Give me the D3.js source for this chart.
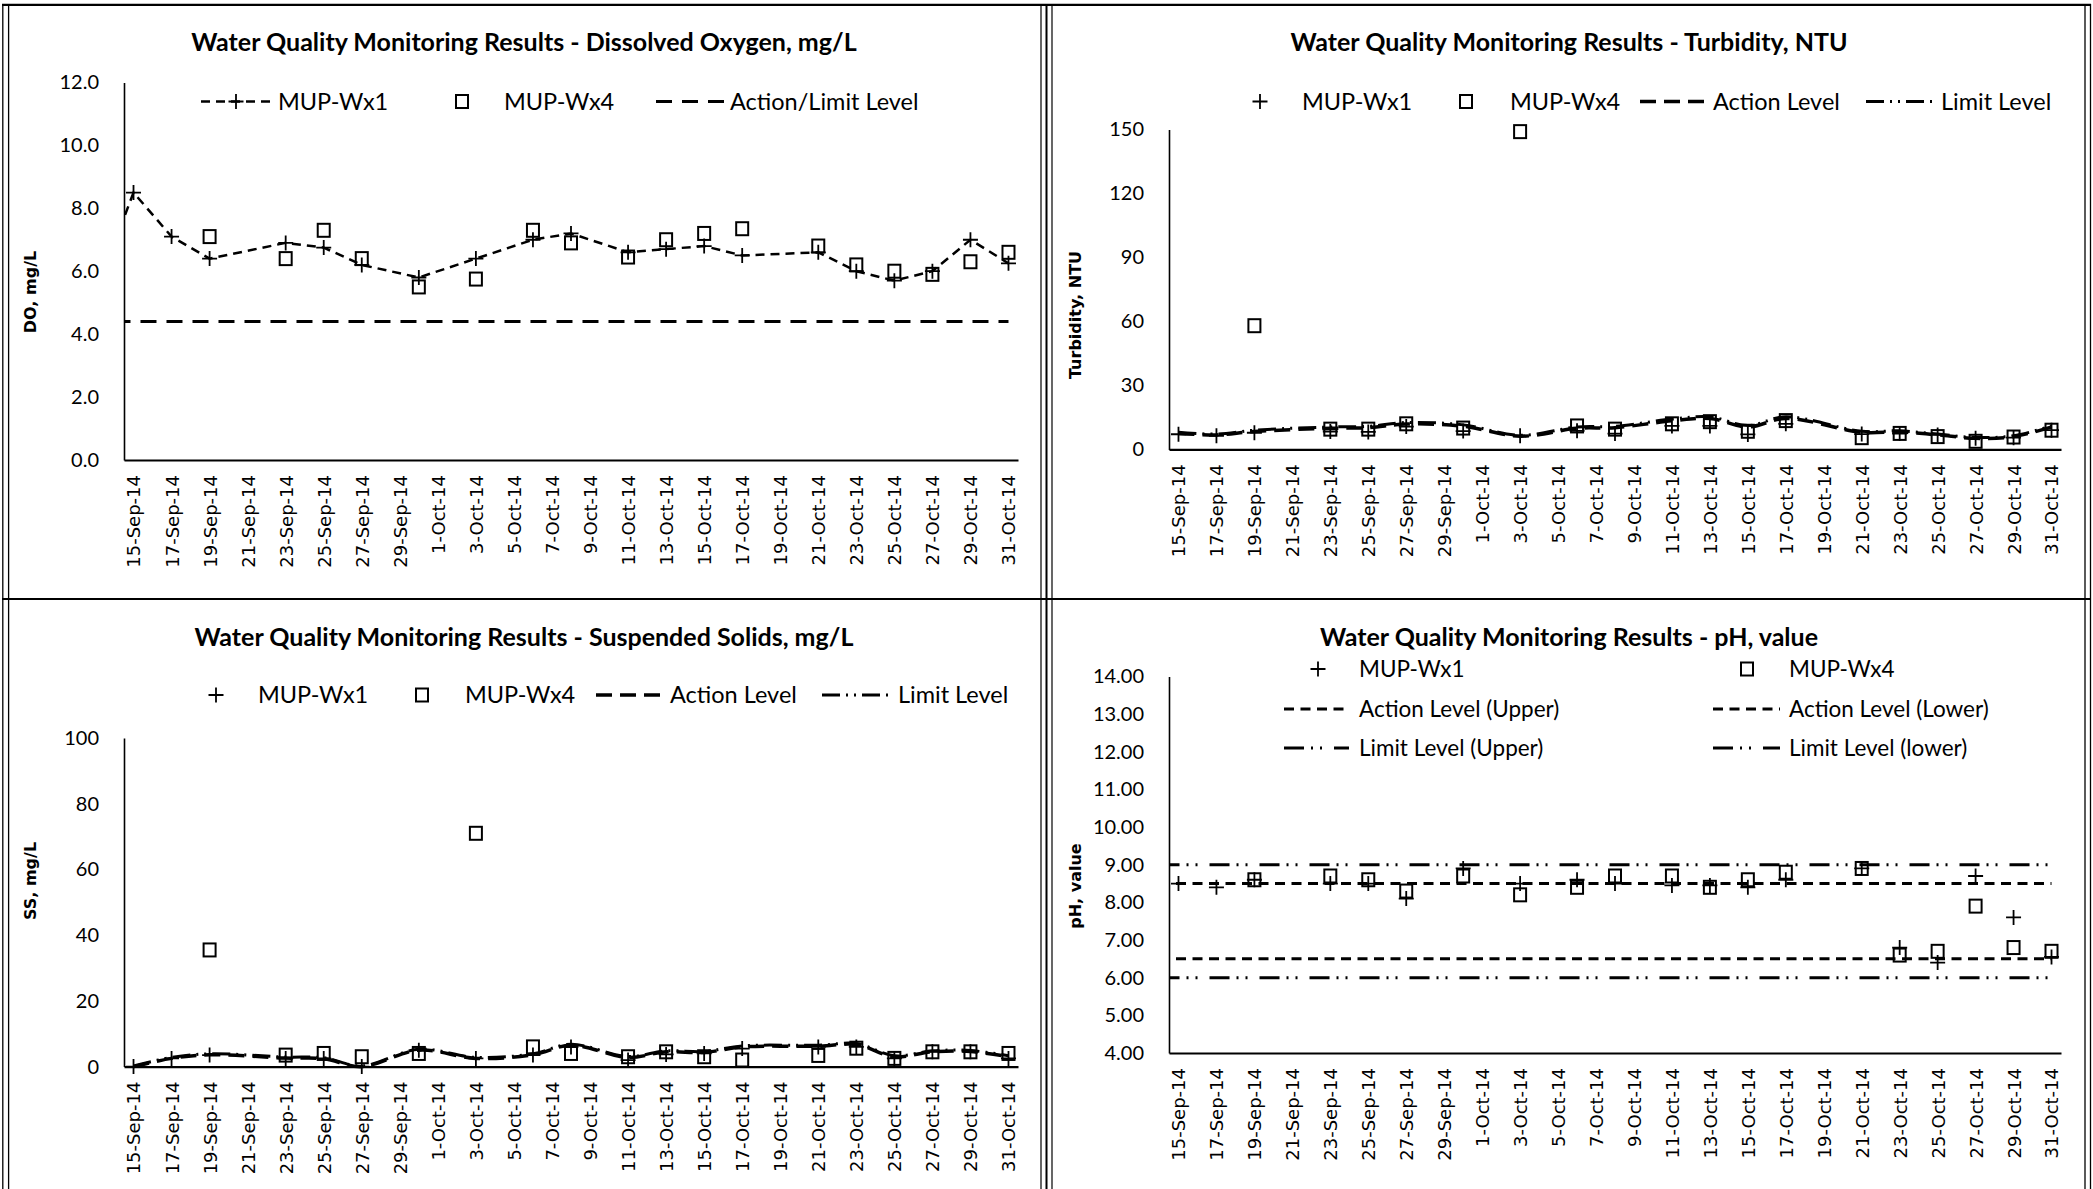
<!DOCTYPE html>
<html><head><meta charset="utf-8">
<script src="https://cdn.jsdelivr.net/npm/d3@7"></script>
<style>body{margin:0;background:#fff}svg{display:block}</style>
</head><body>
<svg id="c" width="2093" height="1189"></svg>
<script>
// ---------------- DATA ----------------
const sampleDates = ["15-Sep-14","17-Sep-14","19-Sep-14","23-Sep-14","25-Sep-14","27-Sep-14","30-Sep-14",
  "3-Oct-14","6-Oct-14","8-Oct-14","11-Oct-14","13-Oct-14","15-Oct-14","17-Oct-14","21-Oct-14",
  "23-Oct-14","25-Oct-14","27-Oct-14","29-Oct-14","31-Oct-14"];
const xTickLabels = ["15-Sep-14","17-Sep-14","19-Sep-14","21-Sep-14","23-Sep-14","25-Sep-14","27-Sep-14","29-Sep-14",
  "1-Oct-14","3-Oct-14","5-Oct-14","7-Oct-14","9-Oct-14","11-Oct-14","13-Oct-14","15-Oct-14","17-Oct-14",
  "19-Oct-14","21-Oct-14","23-Oct-14","25-Oct-14","27-Oct-14","29-Oct-14","31-Oct-14"];
const axisStartDate = "15-Sep-14";
const axisEndDate = "31-Oct-14";

// Dissolved Oxygen, mg/L
const doWx1LeadDate = "14-Sep-14";
const doWx1LeadValue = 6.9;
const doWx1 = [8.5,7.1,6.4,6.9,6.75,6.2,5.8,6.4,7.0,7.2,6.6,6.7,6.8,6.5,6.6,6.0,5.7,6.0,7.0,6.25];
const doWx4 = [null,null,7.1,6.4,7.3,6.4,5.5,5.75,7.3,6.9,6.45,7.0,7.2,7.35,6.8,6.2,6.0,5.9,6.3,6.6];
const doActionLimit = 4.4;
const doTicks = [0,2,4,6,8,10,12];

// Turbidity, NTU
const turbWx1 = [7.1,6.4,7.8,8.4,8.2,10.7,8.6,6.4,8.7,7.4,11.0,11.0,7.0,12.0,7.2,7.4,6.8,5.2,5.5,9.0];
const turbWx4 = [null,null,58,9.5,9.5,12.0,10.0,149,11.0,9.5,12.0,13.0,8.5,13.5,5.5,7.5,6.0,3.8,5.8,9.0];
const turbAction = [7.5,6.8,8.4,9.9,10.2,11.9,10.9,6.2,9.9,10.2,13.4,14.5,10.5,14.5,8.0,8.2,6.8,5.2,6.0,10.5];
const turbLimit  = [8.0,7.2,9.0,10.5,10.8,12.6,11.5,6.6,10.5,10.8,14.2,15.3,11.2,15.3,8.5,8.7,7.2,5.6,6.4,11.0];
const turbTicks = [0,30,60,90,120,150];

// Suspended Solids, mg/L
const ssWx1 = [0,2.5,3.5,2.5,2.5,0,5.0,2.5,3.5,6.0,2.0,3.7,4.0,5.5,6.0,6.0,2.5,4.5,4.5,2.5];
const ssWx4 = [null,null,35.5,3.5,4.0,3.0,4.0,71,6.0,4.0,3.0,4.5,3.0,2.0,3.4,5.6,2.5,4.5,4.5,4.0];
const ssAction = [0,2.5,3.6,2.6,2.4,0,5.0,2.5,3.6,6.5,2.8,4.5,4.3,6.0,6.2,6.7,3.0,4.5,4.6,3.0];
const ssLimit  = [0.2,2.8,3.9,2.9,2.7,0.2,5.3,2.8,3.9,6.8,3.1,4.8,4.6,6.3,6.5,7.0,3.3,4.8,4.9,3.3];
const ssTicks = [0,20,40,60,80,100];

// pH, value
const phWx1 = [8.5,8.4,8.6,8.5,8.5,8.1,8.9,8.5,8.6,8.5,8.45,8.45,8.4,8.6,8.9,6.8,6.4,8.7,7.6,6.55];
const phWx4 = [null,null,8.6,8.7,8.6,8.3,8.7,8.2,8.4,8.7,8.7,8.4,8.6,8.8,8.9,6.6,6.7,7.9,6.8,6.7];
const phActionUpper = 8.5, phActionLower = 6.5, phLimitUpper = 9.0, phLimitLower = 6.0;
const phTicks = [4,5,6,7,8,9,10,11,12,13,14];

// ---------------- DRAWING ----------------
const svg = d3.select("#c");
const parse = d3.utcParse("%d-%b-%y");
const FT = "Lato, 'Open Sans', sans-serif";
const FV = "'DejaVu Sans', Verdana, sans-serif";

const DASH = {
  series: "9,6",
  doAction: "16,10",
  action: "16,8",
  limit: "18,6,2,6,2,6",
  phAction: "10,6.5",
  phLimit: "20,7,2,7,2,12"
};

function plusPath(s){ return `M${-s},0H${s}M0,${-s}V${s}`; }

let clipId = 0;
function panel(cfg){
  const g = svg.append("g").attr("transform", `translate(${cfg.ox},${cfg.oy})`);
  const x = d3.scaleUtc()
    .domain([d3.utcHour.offset(parse(axisStartDate), -12), d3.utcHour.offset(parse(axisEndDate), 12)])
    .range([124, cfg.right]);
  const y = d3.scaleLinear().domain(cfg.yDomain).range([cfg.bottom, cfg.top]);

  g.append("text").attr("x", 524).attr("y", 51).attr("text-anchor","middle")
    .style("font-family", FT).style("font-weight","700").style("font-size","25px")
    .text(cfg.title);

  g.append("text").attr("transform", `translate(30,${cfg.yTitleY}) rotate(-90)`)
    .attr("text-anchor","middle").attr("dy","0.35em")
    .style("font-family", FV).style("font-weight","700").style("font-size","16px")
    .text(cfg.yTitle);

  const ya = g.append("g").attr("transform","translate(124,0)")
    .call(d3.axisLeft(y).tickValues(cfg.ticks).tickSize(0).tickSizeOuter(0).tickPadding(25).tickFormat(d3.format(cfg.fmt)));
  ya.select(".domain").attr("stroke","#000").attr("stroke-width",1.6);
  ya.selectAll("text").style("font-family", FT).style("font-size","20px").attr("fill","#000");

  const xa = g.append("g").attr("transform", `translate(0,${cfg.bottom})`)
    .call(d3.axisBottom(x).tickValues(xTickLabels.map(parse)).tickSize(0).tickSizeOuter(0)
      .tickFormat((d,i) => xTickLabels[i]));
  xa.select(".domain").attr("stroke","#000").attr("stroke-width",2.2);
  xa.selectAll("text").attr("y",0).attr("x",-15).attr("dy","0.36em")
    .attr("transform","rotate(-90)").style("text-anchor","end")
    .style("font-family", FV).style("font-size","18px").attr("fill","#000");

  const id = "clip" + (clipId++);
  g.append("clipPath").attr("id", id).append("rect")
    .attr("x",124).attr("y",-100).attr("width",cfg.right-124).attr("height",cfg.bottom+200);
  const plot = g.append("g").attr("clip-path", `url(#${id})`);

  return {g, x, y, plot, legSize: cfg.legSize};
}

function drawLine(p, dates, vals, dash, width, curve){
  const pts = dates.map((d,i)=>({d:parse(d), v:vals[i]})).filter(o=>o.v!=null);
  p.plot.append("path").datum(pts)
    .attr("fill","none").attr("stroke","#000").attr("stroke-width",width)
    .attr("stroke-dasharray",dash)
    .attr("d", d3.line().curve(curve || d3.curveLinear).x(o=>p.x(o.d)).y(o=>p.y(o.v)));
}
function drawPlus(p, dates, vals){
  const pts = dates.map((d,i)=>({d:parse(d), v:vals[i]})).filter(o=>o.v!=null);
  p.plot.selectAll(null).data(pts).enter().append("path")
    .attr("transform", o=>`translate(${p.x(o.d)},${p.y(o.v)})`)
    .attr("d", plusPath(7.5)).attr("stroke","#000").attr("stroke-width",1.8).attr("fill","none");
}
function drawSquare(p, dates, vals){
  const pts = dates.map((d,i)=>({d:parse(d), v:vals[i]})).filter(o=>o.v!=null);
  p.plot.selectAll(null).data(pts).enter().append("rect")
    .attr("x", o=>p.x(o.d)-6).attr("y", o=>p.y(o.v)-6.5).attr("width",12).attr("height",13)
    .attr("stroke","#000").attr("stroke-width",2).attr("fill","none");
}
function drawConst(p, val, fromDate, toDate, dash, width){
  p.plot.append("line")
    .attr("x1", p.x(parse(fromDate))).attr("x2", p.x(parse(toDate)))
    .attr("y1", p.y(val)).attr("y2", p.y(val))
    .attr("stroke","#000").attr("stroke-width",width).attr("stroke-dasharray",dash);
}

function legText(p, x, y, t){
  p.g.append("text").attr("x",x).attr("y",y).attr("dy","0.35em")
    .style("font-family", FT).style("font-size", p.legSize + "px").text(t);
}
function legPlus(p, x, y){
  p.g.append("path").attr("transform",`translate(${x},${y})`).attr("d",plusPath(7.5))
    .attr("stroke","#000").attr("stroke-width",1.8).attr("fill","none");
}
function legSquare(p, x, y){
  p.g.append("rect").attr("x",x-6).attr("y",y-6.5).attr("width",12).attr("height",13)
    .attr("stroke","#000").attr("stroke-width",2).attr("fill","none");
}
function legLine(p, x1, x2, y, dash, width){
  p.g.append("line").attr("x1",x1).attr("x2",x2).attr("y1",y).attr("y2",y)
    .attr("stroke","#000").attr("stroke-width",width).attr("stroke-dasharray",dash);
}

// ---- Panel 1: DO ----
const p1 = panel({ox:0, oy:0, right:1018, top:82.4, bottom:460, yDomain:[0,12], ticks:doTicks, fmt:".1f", legSize:23.5,
  title:"Water Quality Monitoring Results - Dissolved Oxygen, mg/L", yTitle:"DO, mg/L", yTitleY:292});
drawConst(p1, doActionLimit, doWx1LeadDate, axisEndDate, DASH.doAction, 3);
drawLine(p1, [doWx1LeadDate, ...sampleDates], [doWx1LeadValue, ...doWx1], DASH.series, 2.5);
drawPlus(p1, [doWx1LeadDate, ...sampleDates], [doWx1LeadValue, ...doWx1]);
drawSquare(p1, sampleDates, doWx4);
legLine(p1, 201, 271, 101.5, DASH.series, 2.5); legPlus(p1, 236, 101.5);
legText(p1, 278, 101.5, "MUP-Wx1");
legSquare(p1, 462, 101.5); legText(p1, 504, 101.5, "MUP-Wx4");
legLine(p1, 656, 727, 101.5, DASH.doAction, 3); legText(p1, 730, 101.5, "Action/Limit Level");

// ---- Panel 2: Turbidity ----
const p2 = panel({ox:1045, oy:0, right:1016, top:129.5, bottom:449.4, yDomain:[0,150], ticks:turbTicks, fmt:"d", legSize:23.5,
  title:"Water Quality Monitoring Results - Turbidity, NTU", yTitle:"Turbidity, NTU", yTitleY:315});
drawLine(p2, sampleDates, turbAction, DASH.action, 3.5, d3.curveCatmullRom);
drawLine(p2, sampleDates, turbLimit, DASH.limit, 3, d3.curveCatmullRom);
drawPlus(p2, sampleDates, turbWx1);
drawSquare(p2, sampleDates, turbWx4);
legPlus(p2, 215, 101.5); legText(p2, 257, 101.5, "MUP-Wx1");
legSquare(p2, 421, 101.5); legText(p2, 465, 101.5, "MUP-Wx4");
legLine(p2, 595, 663, 101.5, DASH.action, 3.5); legText(p2, 668, 101.5, "Action Level");
legLine(p2, 821, 890, 101.5, DASH.limit, 3); legText(p2, 896, 101.5, "Limit Level");

// ---- Panel 3: SS ----
const p3 = panel({ox:0, oy:595, right:1018, top:143, bottom:471.6, yDomain:[0,100], ticks:ssTicks, fmt:"d", legSize:23.5,
  title:"Water Quality Monitoring Results - Suspended Solids, mg/L", yTitle:"SS, mg/L", yTitleY:286});
drawLine(p3, sampleDates, ssAction, DASH.action, 3.5, d3.curveCatmullRom);
drawLine(p3, sampleDates, ssLimit, DASH.limit, 3, d3.curveCatmullRom);
drawPlus(p3, sampleDates, ssWx1);
drawSquare(p3, sampleDates, ssWx4);
legPlus(p3, 216, 100); legText(p3, 258, 100, "MUP-Wx1");
legSquare(p3, 422, 100); legText(p3, 465, 100, "MUP-Wx4");
legLine(p3, 596, 664, 100, DASH.action, 3.5); legText(p3, 670, 100, "Action Level");
legLine(p3, 822, 892, 100, DASH.limit, 3); legText(p3, 898, 100, "Limit Level");

// ---- Panel 4: pH ----
const p4 = panel({ox:1045, oy:595, right:1016, top:81.4, bottom:458, yDomain:[4,14], ticks:phTicks, fmt:".2f", legSize:22.5,
  title:"Water Quality Monitoring Results - pH, value", yTitle:"pH, value", yTitleY:291});
drawConst(p4, phLimitUpper, doWx1LeadDate, axisEndDate, DASH.phLimit, 3);
drawConst(p4, phActionUpper, doWx1LeadDate, axisEndDate, DASH.phAction, 3);
drawConst(p4, phActionLower, doWx1LeadDate, axisEndDate, DASH.phAction, 3);
drawConst(p4, phLimitLower, doWx1LeadDate, axisEndDate, DASH.phLimit, 3);
drawPlus(p4, sampleDates, phWx1);
drawSquare(p4, sampleDates, phWx4);
legPlus(p4, 273, 74); legText(p4, 314, 74, "MUP-Wx1");
legSquare(p4, 702, 74); legText(p4, 744, 74, "MUP-Wx4");
legLine(p4, 239, 304, 114, DASH.phAction, 3); legText(p4, 314, 114, "Action Level (Upper)");
legLine(p4, 668, 735, 114, DASH.phAction, 3); legText(p4, 744, 114, "Action Level (Lower)");
legLine(p4, 239, 304, 153, DASH.phLimit, 3); legText(p4, 314, 153, "Limit Level (Upper)");
legLine(p4, 668, 735, 153, DASH.phLimit, 3); legText(p4, 744, 153, "Limit Level (lower)");

// ---- table borders ----
const B = svg.append("g").attr("stroke","#000").attr("fill","none");
B.append("line").attr("x1",2).attr("x2",2091).attr("y1",4.8).attr("y2",4.8).attr("stroke-width",2.2);
B.append("line").attr("x1",2).attr("x2",2091).attr("y1",599).attr("y2",599).attr("stroke-width",2);
[[2.8,1.3],[8.6,1.3],[1041,1.2],[1046.5,2],[1052,1.2],[2085,1.3],[2090.5,1.3]].forEach(([xx,w])=>{
  B.append("line").attr("x1",xx).attr("x2",xx).attr("y1",4).attr("y2",1189).attr("stroke-width",w);
});
</script>
</body></html>
